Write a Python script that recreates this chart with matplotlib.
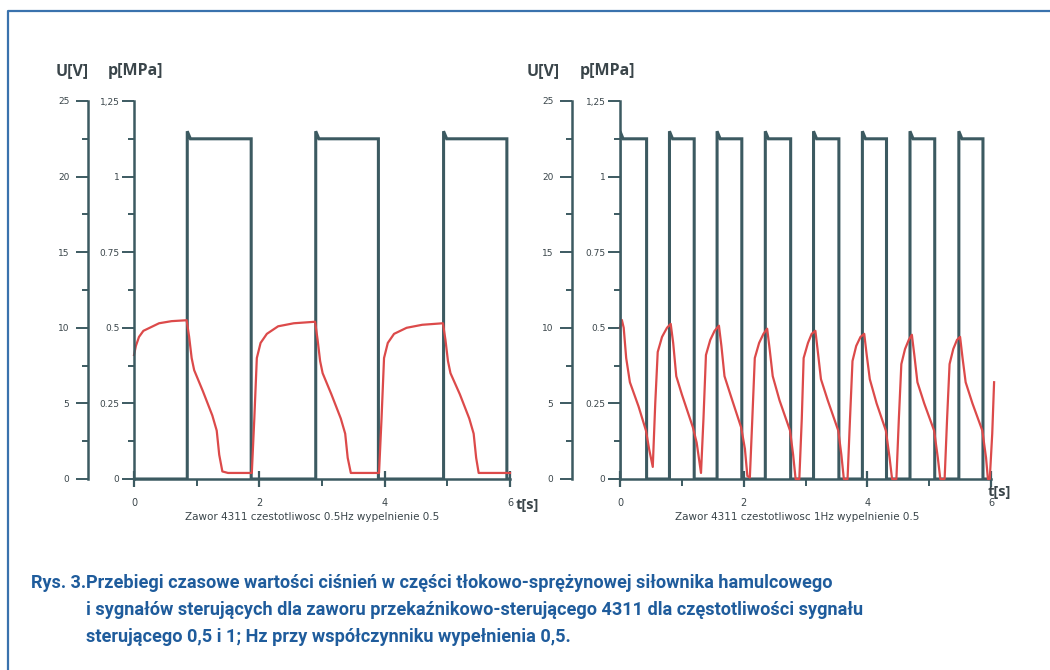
import matplotlib
matplotlib.use('Agg')
import matplotlib.pyplot as plt
from matplotlib.lines import Line2D

W, H = 1050, 670
AXIS_COL = '#3c5a61'
RED = '#dc4a4a'
TXT = '#3a454a'
BLUE = '#1f5c9c'

# ---- left chart: 0.5 Hz ----
rise_a = [0.85, 2.90, 4.94]
fall_a = [1.87, 3.90, 5.95]
t_a = [0.00, 0.03, 0.08, 0.15, 0.25, 0.40, 0.60, 0.84,
       0.88, 0.92, 0.96, 1.10, 1.25, 1.32, 1.36, 1.41, 1.50, 1.88,
       1.92, 1.96, 2.02, 2.12, 2.30, 2.55, 2.89,
       2.93, 2.97, 3.01, 3.15, 3.30, 3.37, 3.41, 3.46, 3.55, 3.91,
       3.95, 3.99, 4.05, 4.15, 4.35, 4.60, 4.93,
       4.97, 5.01, 5.05, 5.20, 5.35, 5.42, 5.46, 5.50, 5.60, 6.00]
p_a = [0.41, 0.44, 0.47, 0.49, 0.50, 0.515, 0.522, 0.525,
       0.47, 0.40, 0.36, 0.29, 0.21, 0.16, 0.08, 0.025, 0.02, 0.02,
       0.20, 0.40, 0.45, 0.48, 0.505, 0.515, 0.52,
       0.46, 0.39, 0.35, 0.28, 0.20, 0.15, 0.07, 0.02, 0.02, 0.02,
       0.20, 0.40, 0.45, 0.48, 0.50, 0.51, 0.515,
       0.46, 0.39, 0.35, 0.28, 0.20, 0.15, 0.07, 0.02, 0.02, 0.02]

# ---- right chart: 1 Hz ----
rise_b = [0.00, 0.80, 1.57, 2.35, 3.13, 3.92, 4.69, 5.48]
fall_b = [0.43, 1.20, 1.97, 2.76, 3.54, 4.31, 5.09, 5.87]
t_b = [0.00, 0.03, 0.06, 0.10, 0.16, 0.30, 0.42, 0.47, 0.53, 0.57, 0.61, 0.68, 0.76, 0.82,
       0.86, 0.91, 1.00, 1.18, 1.24, 1.31, 1.35, 1.39, 1.46, 1.53, 1.60,
       1.64, 1.69, 1.80, 1.96, 2.02, 2.06, 2.10, 2.14, 2.18, 2.25, 2.32, 2.38,
       2.42, 2.47, 2.58, 2.75, 2.80, 2.84, 2.90, 2.94, 2.97, 3.04, 3.10, 3.16,
       3.20, 3.25, 3.36, 3.53, 3.58, 3.62, 3.68, 3.72, 3.76, 3.82, 3.89, 3.95,
       3.99, 4.04, 4.15, 4.30, 4.36, 4.40, 4.47, 4.51, 4.55, 4.61, 4.67, 4.72,
       4.76, 4.81, 4.92, 5.08, 5.14, 5.18, 5.25, 5.29, 5.33, 5.39, 5.45, 5.50,
       5.54, 5.59, 5.70, 5.86, 5.92, 5.95, 5.98, 6.02, 6.05]
p_b = [0.50, 0.526, 0.50, 0.40, 0.32, 0.24, 0.16, 0.10, 0.04, 0.25, 0.42, 0.47, 0.50, 0.513,
       0.45, 0.34, 0.28, 0.17, 0.12, 0.02, 0.20, 0.41, 0.46, 0.49, 0.507,
       0.44, 0.34, 0.27, 0.17, 0.10, 0.01, 0.005, 0.20, 0.40, 0.45, 0.48, 0.497,
       0.43, 0.34, 0.26, 0.16, 0.08, 0.0, 0.0, 0.20, 0.40, 0.45, 0.48, 0.49,
       0.42, 0.33, 0.26, 0.16, 0.08, 0.0, 0.0, 0.20, 0.39, 0.44, 0.47, 0.48,
       0.41, 0.33, 0.25, 0.16, 0.07, 0.0, 0.0, 0.20, 0.38, 0.43, 0.46, 0.477,
       0.41, 0.32, 0.25, 0.16, 0.07, 0.0, 0.0, 0.20, 0.38, 0.43, 0.46, 0.47,
       0.40, 0.32, 0.25, 0.16, 0.07, 0.0, 0.0, 0.15, 0.32]

u_high = 22.5
u_peak = 23.0

u_ticks = [0, 5, 10, 15, 20, 25]
p_ticks = [0, 0.25, 0.5, 0.75, 1.0, 1.25]
p_labels = ['0', '0.25', '0.5', '0.75', '1', '1,25']
t_ticks = [0, 2, 4, 6]


def fx(x):
    return x / W


def fy(y):
    return 1 - y / H


def square(rises, falls, t_end):
    t, u = [0], [0]
    for r, f in zip(rises, falls):
        t += [r, r, r + 0.05, f, f]
        u += [0, u_peak, u_high, u_high, 0]
    t.append(t_end)
    u.append(0)
    return t, u


def chart(x0, x6, xu, rises, falls, t, p, caption, cap_x, lab_u, lab_p, tlab):
    top, bot = 101, 479
    rect = [fx(x0), fy(bot), fx(x6) - fx(x0), (bot - top) / H]
    ax = fig.add_axes(rect)
    ax.patch.set_alpha(0)
    st, su = square(rises, falls, 6)
    ax.plot(st, su, color=AXIS_COL, lw=2.2, solid_joinstyle='miter')
    ax.set_xlim(0, 6)
    ax.set_ylim(0, 25)
    for s in ['left', 'top', 'right']:
        ax.spines[s].set_visible(False)
    ax.spines['bottom'].set_color(AXIS_COL)
    ax.spines['bottom'].set_linewidth(1.8)
    ax.set_yticks([])
    ax.set_xticks(t_ticks)
    ax.set_xticks([1, 3, 5], minor=True)
    ax.tick_params(axis='x', which='major', direction='inout', length=12,
                   width=1.6, color=AXIS_COL, labelsize=7, labelcolor=TXT, pad=8)
    ax.tick_params(axis='x', which='minor', direction='out', length=5,
                   width=1.4, color=AXIS_COL)

    # pressure axis (left spine at t=0)
    axp = ax.twinx()
    axp.plot(t, p, color=RED, lw=1.6, clip_on=False)
    axp.set_ylim(0, 1.25)
    axp.yaxis.set_ticks_position('left')
    for s in ['top', 'right', 'bottom']:
        axp.spines[s].set_visible(False)
    axp.spines['left'].set_visible(True)
    axp.spines['left'].set_color(AXIS_COL)
    axp.spines['left'].set_linewidth(1.8)
    axp.set_yticks(p_ticks)
    axp.set_yticklabels(p_labels)
    axp.set_yticks([0.125, 0.375, 0.625, 0.875, 1.125], minor=True)
    axp.tick_params(axis='y', which='major', direction='out', length=8.5,
                    width=1.4, color=AXIS_COL, labelsize=6.5, labelcolor=TXT, pad=2)
    axp.tick_params(axis='y', which='minor', direction='out', length=4.5,
                    width=1.4, color=AXIS_COL)

    # voltage axis
    axu = fig.add_axes([fx(xu), fy(bot), 0.001, (bot - top) / H])
    axu.patch.set_alpha(0)
    for s in ['top', 'right', 'bottom']:
        axu.spines[s].set_visible(False)
    axu.spines['left'].set_color(AXIS_COL)
    axu.spines['left'].set_linewidth(1.8)
    axu.set_ylim(0, 25)
    axu.set_xticks([])
    axu.set_yticks(u_ticks)
    axu.set_yticks([2.5, 7.5, 12.5, 17.5, 22.5], minor=True)
    axu.tick_params(axis='y', which='major', direction='out', length=8.5,
                    width=1.4, color=AXIS_COL, labelsize=6.5, labelcolor=TXT, pad=5)
    axu.tick_params(axis='y', which='minor', direction='out', length=4.5,
                    width=1.4, color=AXIS_COL)

    fig.text(fx(lab_u), fy(71), 'U[V]', fontsize=11.5, fontweight='bold',
             color=TXT, family='Open Sans', va='center')
    fig.text(fx(lab_p), fy(71), 'p[MPa]', fontsize=11.5, fontweight='bold',
             color=TXT, family='Open Sans', va='center')
    fig.text(fx(cap_x), fy(517), caption, fontsize=7.5, color=TXT,
             ha='center', va='center')
    fig.text(fx(tlab[0]), fy(tlab[1]), 't[s]', fontsize=10.5, fontweight='bold',
             color=TXT, family='Open Sans', va='center')


fig = plt.figure(figsize=(10.5, 6.7), dpi=100)

chart(134, 510, 88, rise_a, fall_a, t_a, p_a,
      'Zawor 4311 czestotliwosc 0.5Hz wypelnienie 0.5', 312, 56, 108, (516, 505))
chart(620, 991, 572, rise_b, fall_b, t_b, p_b,
      'Zawor 4311 czestotliwosc 1Hz wypelnienie 0.5', 797, 527, 580, (988, 492))

# frame
fig.add_artist(Line2D([fx(8), fx(8), 1.01], [-0.01, fy(11), fy(11)],
                      color='#3a72ad', lw=1.6, transform=fig.transFigure))

cap_font = ['Roboto', 'DejaVu Sans']
fig.text(fx(31), fy(583), 'Rys. 3.', fontsize=13, fontweight='bold',
         color=BLUE, family=cap_font, va='center')
cap_lines = ['Przebiegi czasowe wartości ciśnień w części tłokowo-sprężynowej siłownika hamulcowego',
             'i sygnałów sterujących dla zaworu przekaźnikowo-sterującego 4311 dla częstotliwości sygnału',
             'sterującego 0,5 i 1; Hz przy współczynniku wypełnienia 0,5.']
for i, line in enumerate(cap_lines):
    fig.text(fx(86), fy(583 + 27 * i), line, fontsize=13.1, fontweight='bold',
             color=BLUE, family=cap_font, va='center')

fig.savefig('out.png', dpi=100, facecolor='white')
